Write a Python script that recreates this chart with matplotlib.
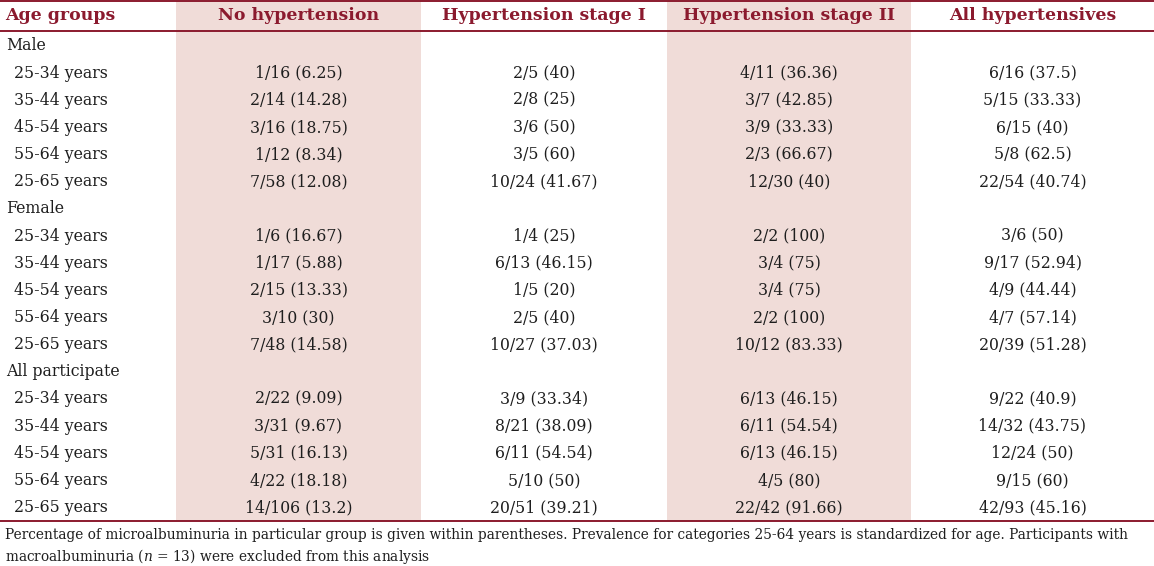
import matplotlib
matplotlib.use("Agg")
import matplotlib.pyplot as plt

plt.rcParams["mathtext.fontset"] = "custom"
plt.rcParams["mathtext.it"] = "DejaVu Serif:italic"
plt.rcParams["mathtext.rm"] = "DejaVu Serif"

W, H = 1154, 566
FONT = "DejaVu Serif"
RED = "#8b1a2e"
SHADE = "#f0dcd8"
TXT = "#1e1e1e"

columns = ["Age groups", "No hypertension", "Hypertension stage I",
           "Hypertension stage II", "All hypertensives"]
sections = ["Male", "Female", "All participate"]
age_labels = ["25-34 years", "35-44 years", "45-54 years", "55-64 years", "25-65 years"]

no_htn = [
    ["1/16 (6.25)", "2/14 (14.28)", "3/16 (18.75)", "1/12 (8.34)", "7/58 (12.08)"],
    ["1/6 (16.67)", "1/17 (5.88)", "2/15 (13.33)", "3/10 (30)", "7/48 (14.58)"],
    ["2/22 (9.09)", "3/31 (9.67)", "5/31 (16.13)", "4/22 (18.18)", "14/106 (13.2)"],
]
htn_stage1 = [
    ["2/5 (40)", "2/8 (25)", "3/6 (50)", "3/5 (60)", "10/24 (41.67)"],
    ["1/4 (25)", "6/13 (46.15)", "1/5 (20)", "2/5 (40)", "10/27 (37.03)"],
    ["3/9 (33.34)", "8/21 (38.09)", "6/11 (54.54)", "5/10 (50)", "20/51 (39.21)"],
]
htn_stage2 = [
    ["4/11 (36.36)", "3/7 (42.85)", "3/9 (33.33)", "2/3 (66.67)", "12/30 (40)"],
    ["2/2 (100)", "3/4 (75)", "3/4 (75)", "2/2 (100)", "10/12 (83.33)"],
    ["6/13 (46.15)", "6/11 (54.54)", "6/13 (46.15)", "4/5 (80)", "22/42 (91.66)"],
]
all_htn = [
    ["6/16 (37.5)", "5/15 (33.33)", "6/15 (40)", "5/8 (62.5)", "22/54 (40.74)"],
    ["3/6 (50)", "9/17 (52.94)", "4/9 (44.44)", "4/7 (57.14)", "20/39 (51.28)"],
    ["9/22 (40.9)", "14/32 (43.75)", "12/24 (50)", "9/15 (60)", "42/93 (45.16)"],
]
footnote = [
    "Percentage of microalbuminuria in particular group is given within parentheses. "
    "Prevalence for categories 25-64 years is standardized for age. Participants with",
    "macroalbuminuria ($\\it{n}$ = 13) were excluded from this analysis",
]

fig = plt.figure(figsize=(W / 100, H / 100), dpi=100)
ax = fig.add_axes([0, 0, 1, 1])
ax.set_xlim(0, W)
ax.set_ylim(H, 0)
ax.axis("off")

col_edges = [0, 176, 421, 667, 911, W]
col_centers = [(col_edges[i] + col_edges[i + 1]) / 2 for i in range(1, 5)]
top_y, head_y, bot_y = 1, 31, 521

# shading
for i in (1, 3):
    ax.add_patch(plt.Rectangle((col_edges[i], top_y), col_edges[i + 1] - col_edges[i],
                               bot_y - top_y, color=SHADE, lw=0, zorder=0))
for y in (top_y, head_y, bot_y):
    ax.plot([0, W], [y, y], color=RED, lw=1.4, zorder=2, solid_capstyle="butt")

# header
hy = 14
hfs = 12.5
ax.text(5, hy, columns[0], ha="left", va="center_baseline", fontsize=hfs, fontweight="bold",
        color=RED, family=FONT)
for c, name in zip(col_centers, columns[1:]):
    ax.text(c, hy, name, ha="center", va="center_baseline", fontsize=hfs, fontweight="bold",
            color=RED, family=FONT)

# body
data_cols = [no_htn, htn_stage1, htn_stage2, all_htn]
row_h = 27.15
y = 44
fs = 11.3
for s, sec in enumerate(sections):
    ax.text(6, y, sec, ha="left", va="center_baseline", fontsize=fs, color=TXT, family=FONT)
    y += row_h
    for r, lab in enumerate(age_labels):
        ax.text(14, y, lab, ha="left", va="center_baseline", fontsize=fs, color=TXT, family=FONT)
        for c, col in zip(col_centers, data_cols):
            ax.text(c, y, col[s][r], ha="center", va="center_baseline", fontsize=fs,
                    color=TXT, family=FONT)
        y += row_h

ffs = 9.95
ax.text(5, 533, footnote[0], ha="left", va="center_baseline", fontsize=ffs, color=TXT, family=FONT)
ax.text(5, 554, footnote[1], ha="left", va="center_baseline", fontsize=ffs, color=TXT, family=FONT)

fig.savefig("out.png", dpi=100)
